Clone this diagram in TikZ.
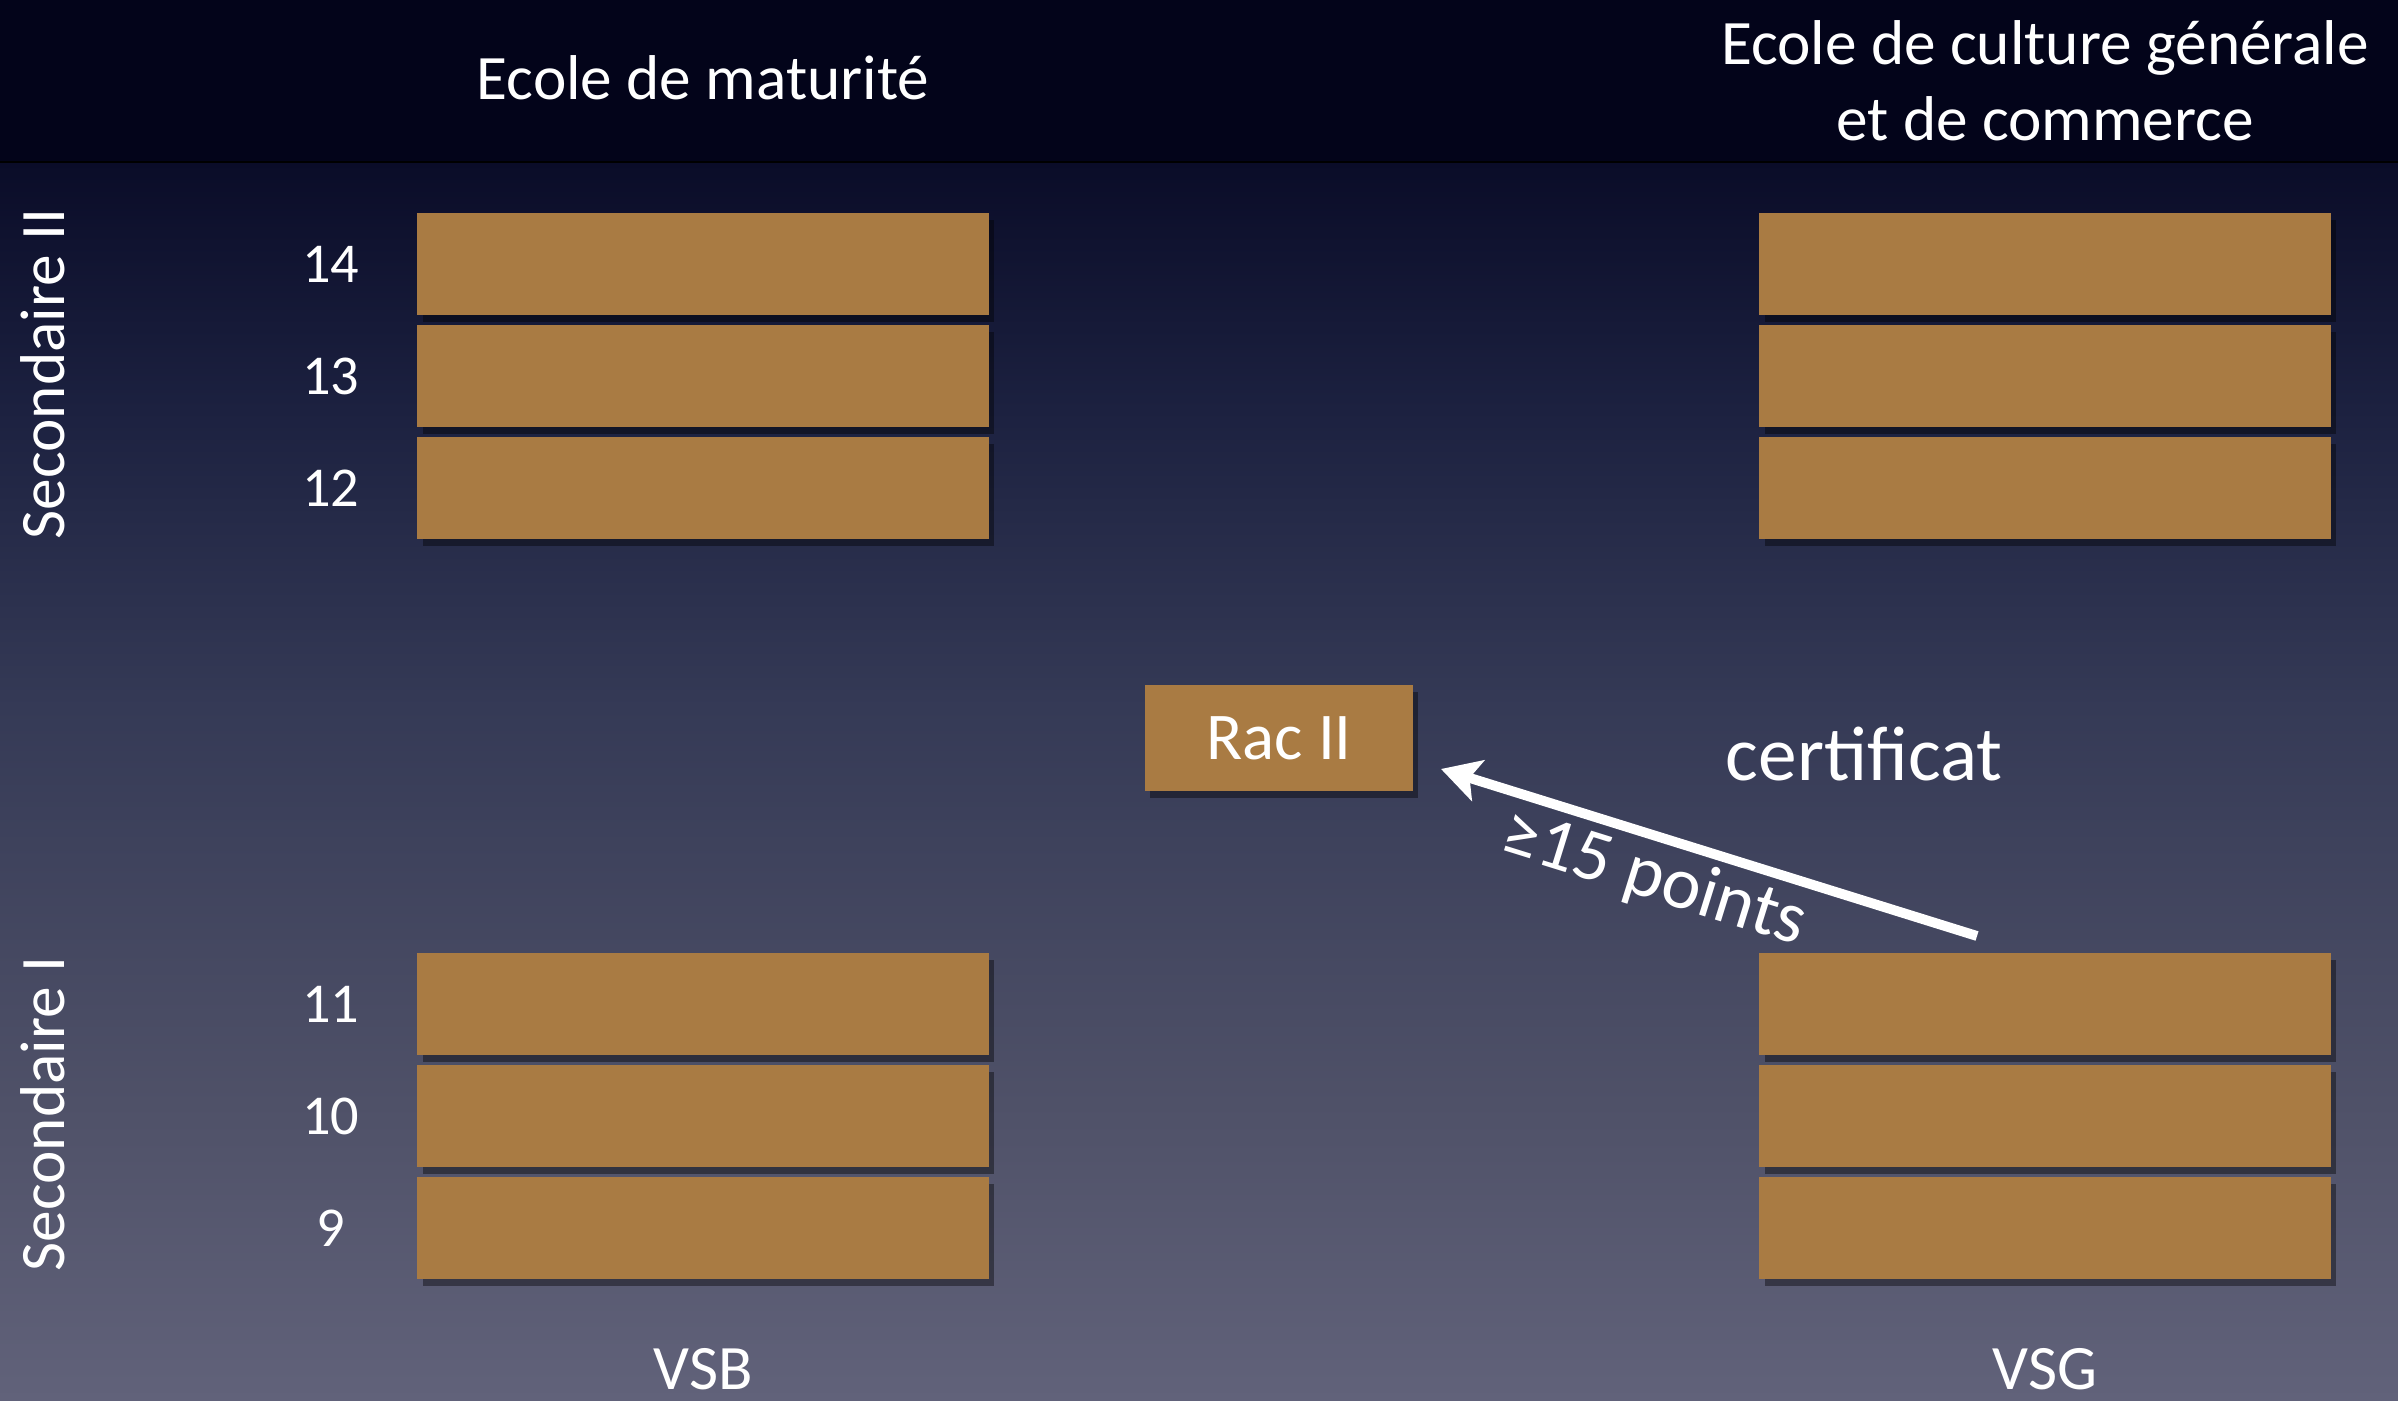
\documentclass[tikz,border=0pt]{standalone}
\usepackage{fontspec}
\setmainfont{Carlito}
\usetikzlibrary{arrows.meta,shadows}

\definecolor{brick}{HTML}{A97B43}
\definecolor{headbg}{HTML}{03041A}
\definecolor{bgtop}{HTML}{0A0C28}
\definecolor{bgupper}{HTML}{1C2140}
\definecolor{bgmid}{HTML}{353A56}
\definecolor{bglower}{HTML}{4F5168}
\definecolor{bgbot}{HTML}{61627A}

\pgfdeclareverticalshading{slidebg}{100bp}{color(0bp)=(bgbot); color(25bp)=(bgbot);
  color(37bp)=(bglower); color(53bp)=(bgmid); color(65bp)=(bgupper);
  color(75bp)=(bgtop); color(100bp)=(bgtop)}

\begin{document}
\begin{tikzpicture}[x=0.01cm,y=-0.01cm,node distance=1.12cm,
                    blk/.style={rectangle,fill=brick,inner sep=0pt,
                      minimum width=5.71cm,minimum height=1.02cm,
                      drop shadow={fill=black,opacity=0.4,shadow xshift=1.5pt,shadow yshift=-2pt}},
                    num/.style={text=white,font=\fontsize{16}{19}\selectfont},
                    txt/.style={text=white,font=\fontsize{18}{21.5}\selectfont},
                    pil/.style={draw=white,line width=2.8pt,
                      -{Stealth[length=11pt,width=12pt,inset=2.5pt]}}]
  \useasboundingbox (0,0) rectangle (2398,1401);
  % background
  \shade[shading=slidebg] (0,162) rectangle (2398,1401);
  \fill[headbg] (0,0) rectangle (2398,162);
  \draw[black,line width=0.6pt] (0,162) -- (2398,162);

  \node[txt,anchor=base] (em)  at (703,100)  {Ecole de maturit\'e};
  \node[txt,align=center,inner sep=0pt] (ecg) at (2045,81) {Ecole de culture g\'en\'erale\\et de commerce};

  % VSB
  \node[blk]         (vsb14)                     at (703,264) {};
  \node[blk]         (vsb13) [below of=vsb14]    {};
  \node[blk]         (vsb12) [below of=vsb13]    {};
  \node[blk]         (vsb11)                     at (703,1004) {};
  \node[blk]         (vsb10) [below of=vsb11]    {};
  \node[blk]         (vsb9)  [below of=vsb10]    {};

  % VSG
  \node[blk]         (vsg14)                     at (2045,264) {};
  \node[blk]         (vsg13) [below of=vsg14]    {};
  \node[blk]         (vsg12) [below of=vsg13]    {};
  \node[blk]         (vsg11)                     at (2045,1004) {};
  \node[blk]         (vsg10) [below of=vsg11]    {};
  \node[blk]         (vsg9)  [below of=vsg10]    {};

  \node[num] (n14) [left of=vsb14,node distance=3.72cm] {14};
  \node[num] (n13) [left of=vsb13,node distance=3.72cm] {13};
  \node[num] (n12) [left of=vsb12,node distance=3.72cm] {12};
  \node[num] (n11) [left of=vsb11,node distance=3.72cm] {11};
  \node[num] (n10) [left of=vsb10,node distance=3.72cm] {10};
  \node[num] (n9)  [left of=vsb9,node distance=3.72cm]  {9};

  \node[txt,rotate=90] (sec2) at (43,374)  {Secondaire II};
  \node[txt,rotate=90] (sec1) at (43,1114) {Secondaire I};

  \node[txt,anchor=base,inner sep=0pt] (vsb) at (703,1389)  {VSB};
  \node[txt,anchor=base,inner sep=0pt] (vsg) at (2045,1389) {VSG};

  \node[blk,minimum width=2.68cm,minimum height=1.06cm,text=white,
        font=\fontsize{19}{22}\selectfont] (rac) at (1279,738) {Rac II};
  \node[txt,anchor=base,font=\fontsize{22}{26}\selectfont] (cert) at (1864,780) {certificat};

  \coordinate (tail) at (1977,936);
  \coordinate (tip)  at (1441,769);
  \draw[pil] (tail) -- (tip);
  \node[txt,rotate=-17.3,font=\fontsize{21}{25}\selectfont] (pts) at (1654,880) {≥15 points};
\end{tikzpicture}
\end{document}
